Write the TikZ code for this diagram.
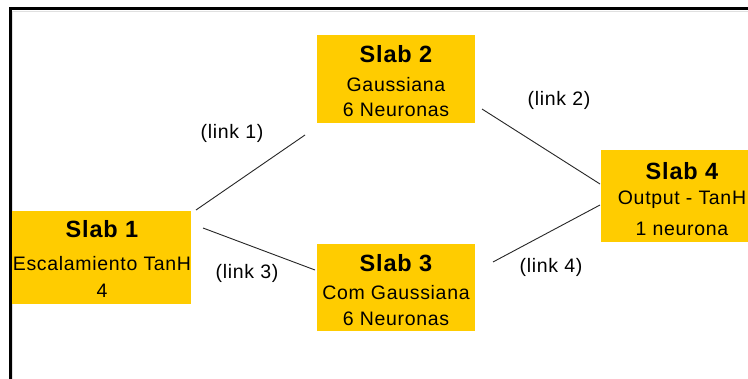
\documentclass[tikz,border=0pt]{standalone}
\usepackage{fontspec}
\setmainfont{Liberation Sans}
\newfontfamily\slabfont{Liberation Sans}[LetterSpace=3.5]
\definecolor{slabyellow}{HTML}{FFCC00}
\begin{document}
\begin{tikzpicture}[x=1pt,y=-1pt,
  slab/.style={fill=slabyellow, draw=none, inner sep=0pt, anchor=north west},
  slabtitle/.style={font=\slabfont\bfseries\fontsize{23.5}{24}\selectfont, inner sep=0pt},
  slabtext/.style={font=\slabfont\fontsize{19.5}{20}\selectfont, inner sep=0pt},
  link/.style={draw=black!85, line width=0.9pt},
  linklabel/.style={font=\slabfont\fontsize{19.5}{20}\selectfont, inner sep=0pt}]
\useasboundingbox (0,0) rectangle (748,379);
\fill[white] (0,0) rectangle (748,379);
% outer frame (top and left edges)
\draw[black!12, line width=1pt] (748,11.5) -- (12.5,11.5) -- (12.5,379);
\draw[black, line width=3pt] (748,9) -- (10,9) -- (10,379);

% slabs
\node[slab, minimum width=179pt, minimum height=93pt] (s1) at (12,211) {};
\node[slab, minimum width=158pt, minimum height=88pt] (s2) at (317,35) {};
\node[slab, minimum width=158pt, minimum height=87pt] (s3) at (317,244) {};
\node[slab, minimum width=147pt, minimum height=92pt] (s4) at (601,150) {};

\node[slabtitle] (s1t) at (102,229) {Slab 1};
\node[slabtext]  (s1a) at (102,264) {Escalamiento TanH};
\node[slabtext]  (s1b) at (102,291) {4};

\node[slabtitle] (s2t) at (396,54) {Slab 2};
\node[slabtext]  (s2a) at (396,85) {Gaussiana};
\node[slabtext]  (s2b) at (396,110) {6 Neuronas};

\node[slabtitle] (s3t) at (396,263) {Slab 3};
\node[slabtext]  (s3a) at (396,293) {Com Gaussiana};
\node[slabtext]  (s3b) at (396,319) {6 Neuronas};

\node[slabtitle] (s4t) at (682,171) {Slab 4};
\node[slabtext]  (s4a) at (682,200) {Output - TanH};
\node[slabtext]  (s4b) at (682,229) {1 neurona};

% link end points
\coordinate (l1a) at (196,210);
\coordinate (l1b) at (305,135);
\coordinate (l2a) at (482,109);
\coordinate (l2b) at (600,184);
\coordinate (l3a) at (203,228);
\coordinate (l3b) at (315,270);
\coordinate (l4a) at (493,262);
\coordinate (l4b) at (600,205);

\draw[link] (l1a) -- (l1b);
\draw[link] (l2a) -- (l2b);
\draw[link] (l3a) -- (l3b);
\draw[link] (l4a) -- (l4b);

\node[linklabel] (k1) at (232,133) {(link 1)};
\node[linklabel] (k2) at (559,100) {(link 2)};
\node[linklabel] (k3) at (247,273) {(link 3)};
\node[linklabel] (k4) at (551,267) {(link 4)};
\end{tikzpicture}
\end{document}
